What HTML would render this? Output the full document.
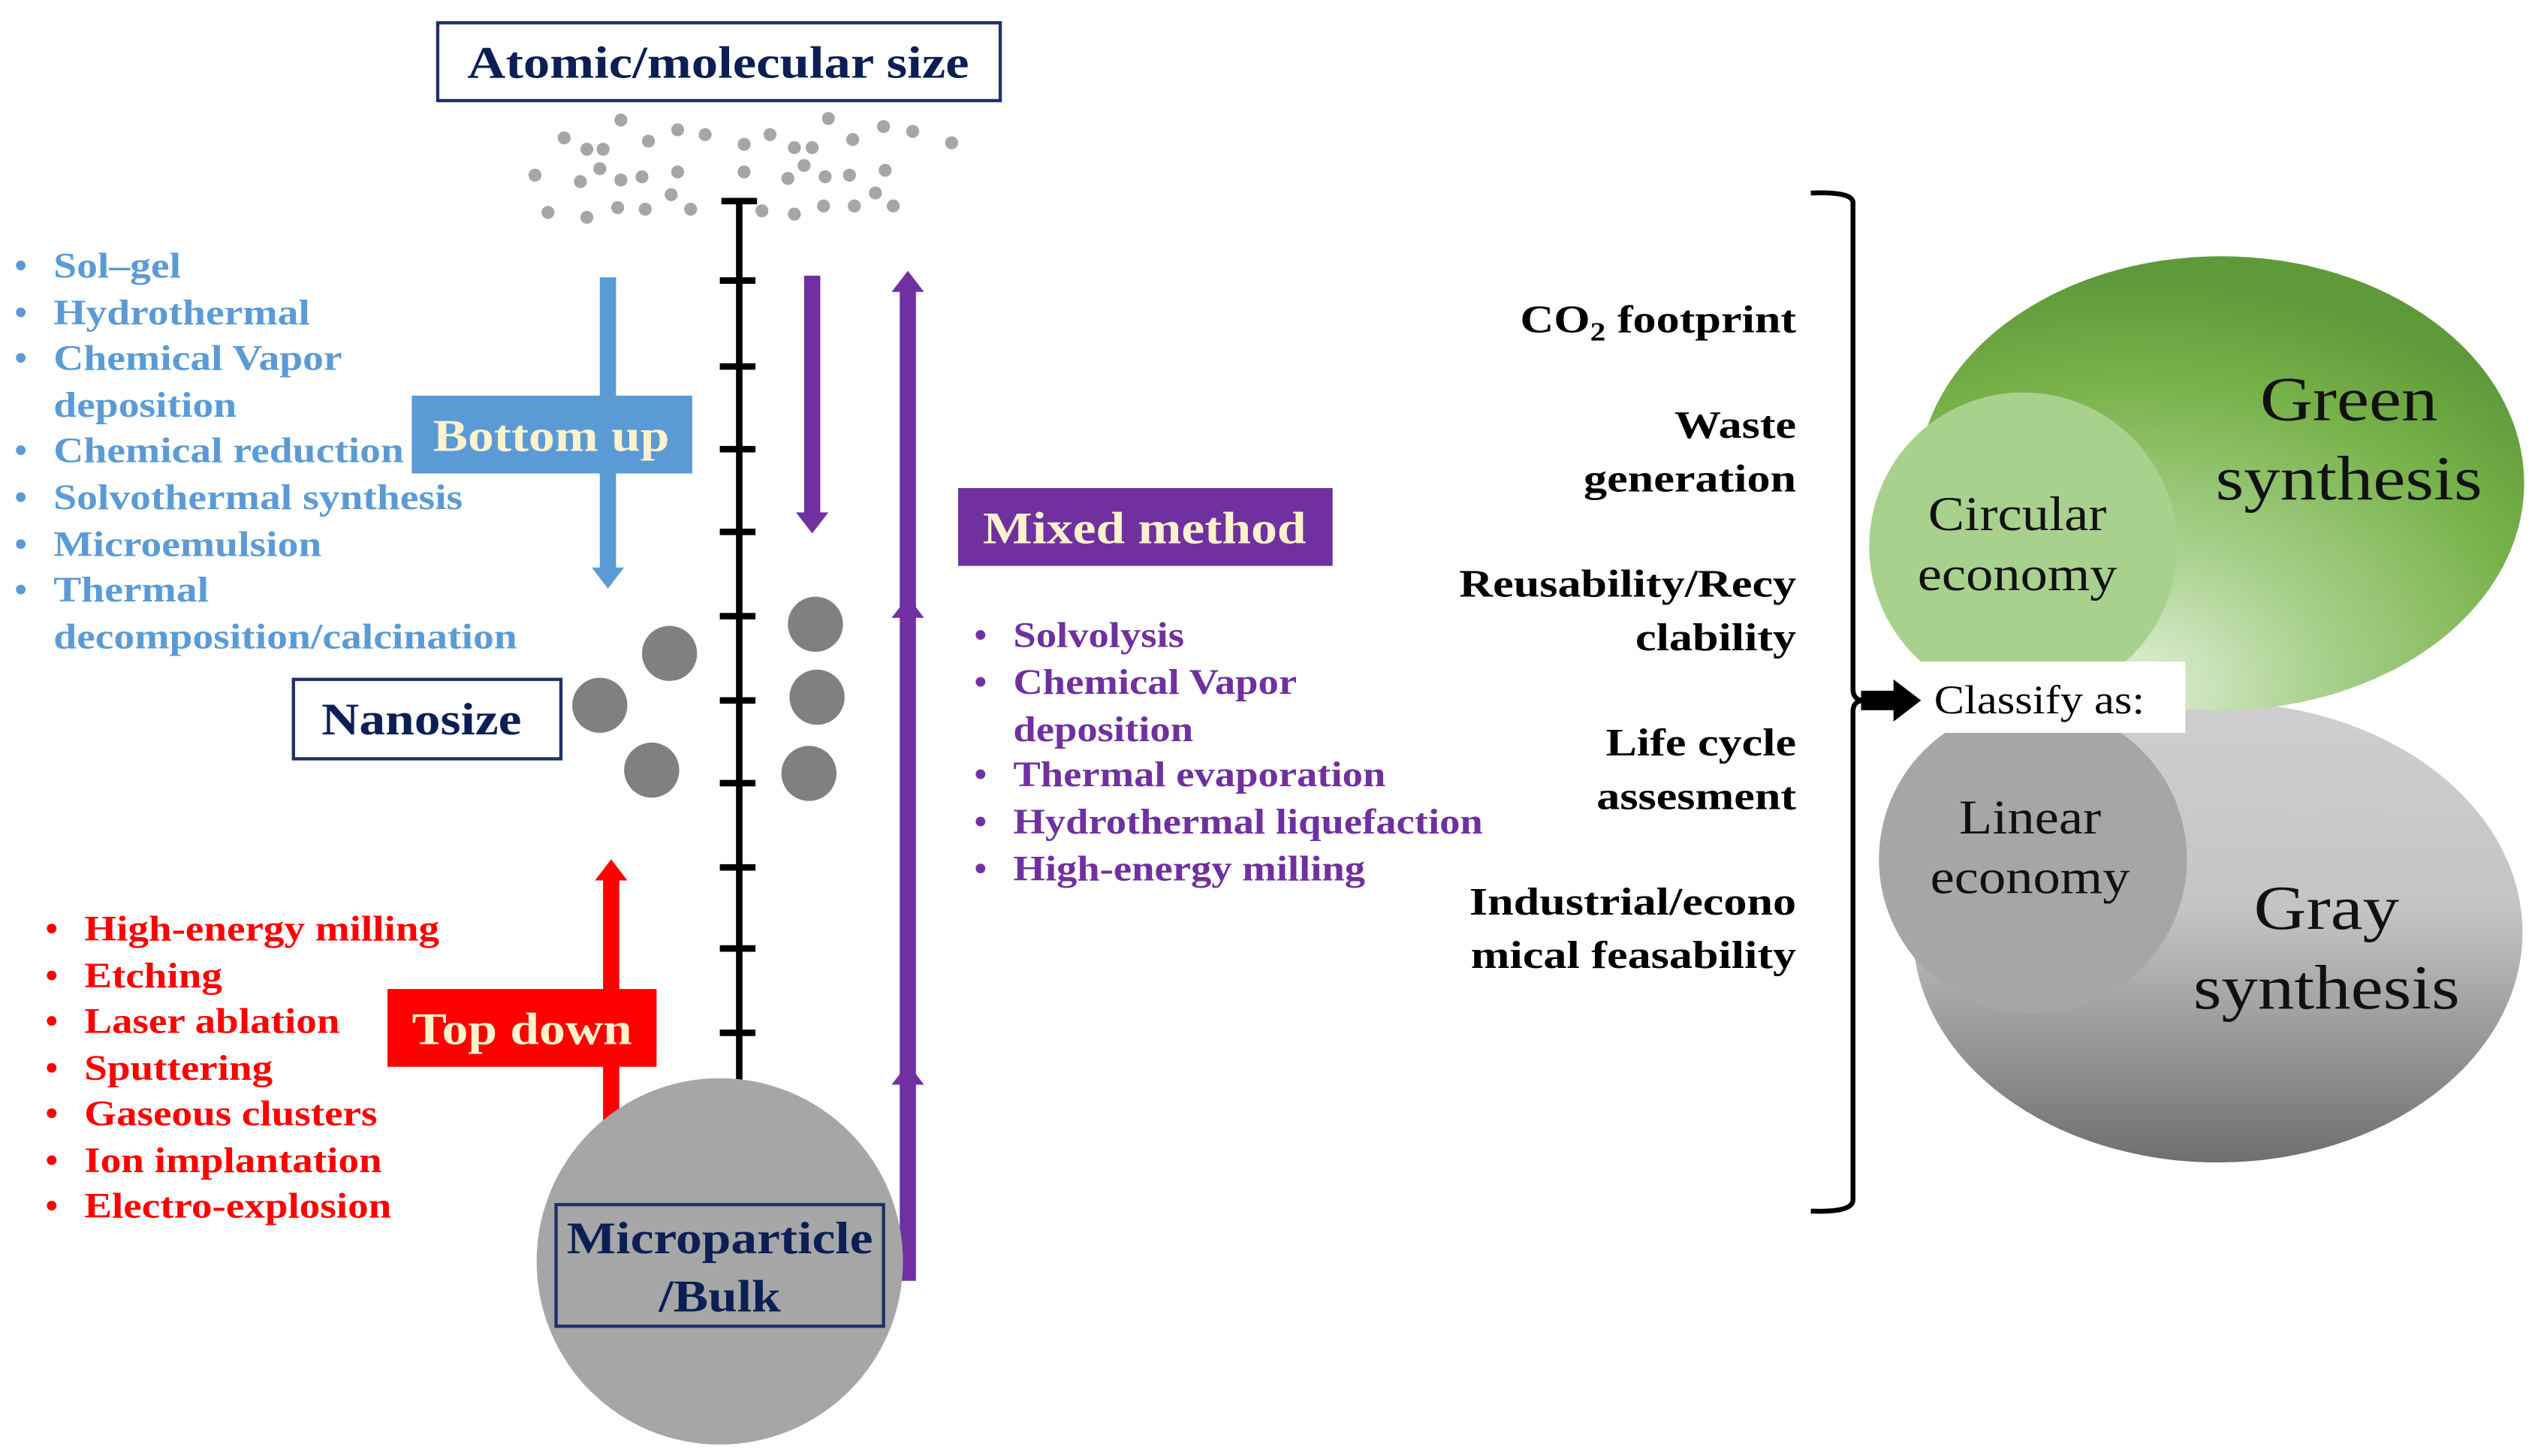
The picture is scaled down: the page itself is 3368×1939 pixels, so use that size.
<!DOCTYPE html>
<html><head><meta charset="utf-8"><style>
html,body{margin:0;padding:0;background:#fff;}
svg{display:block}
text{font-family:"Liberation Serif",serif;}
</style></head><body>
<svg width="3368" height="1939" viewBox="0 0 1560 898" xmlns="http://www.w3.org/2000/svg">
<defs>
<radialGradient id="gg" cx="0.35" cy="0.95" r="0.9">
<stop offset="0" stop-color="#e2f0d9"/><stop offset="0.35" stop-color="#a9d18e"/><stop offset="0.75" stop-color="#78b24a"/><stop offset="1" stop-color="#5f9a3a"/>
</radialGradient>
<linearGradient id="gy" x1="0" y1="0" x2="0" y2="1">
<stop offset="0" stop-color="#cfcfcf"/><stop offset="0.45" stop-color="#c4c4c4"/><stop offset="1" stop-color="#6f6f6f"/>
</linearGradient>
</defs>
<!-- top box -->
<rect x="270" y="14" width="347" height="48" fill="#fff" stroke="#1f2f6b" stroke-width="2"/>
<g transform="translate(443,0) scale(1.17,1) translate(-443,0)">
<text x="443" y="48" font-size="28" font-weight="bold" fill="#0b1f55" text-anchor="middle">Atomic/molecular size</text></g>
<!-- dots -->
<g fill="#a6a6a6">
<circle cx="348" cy="85" r="4"/><circle cx="362" cy="92" r="4"/><circle cx="372" cy="92" r="4"/><circle cx="383" cy="74" r="4"/><circle cx="400" cy="87" r="4"/><circle cx="418" cy="80" r="4"/><circle cx="435" cy="83" r="4"/><circle cx="459" cy="89" r="4"/><circle cx="475" cy="83" r="4"/><circle cx="490" cy="91" r="4"/><circle cx="501" cy="91" r="4"/><circle cx="511" cy="73" r="4"/><circle cx="526" cy="86" r="4"/><circle cx="545" cy="78" r="4"/><circle cx="563" cy="81" r="4"/><circle cx="587" cy="88" r="4"/>
<circle cx="330" cy="108" r="4"/><circle cx="358" cy="112" r="4"/><circle cx="370" cy="104" r="4"/><circle cx="383" cy="111" r="4"/><circle cx="396" cy="109" r="4"/><circle cx="418" cy="106" r="4"/><circle cx="459" cy="106" r="4"/><circle cx="486" cy="110" r="4"/><circle cx="496" cy="102" r="4"/><circle cx="509" cy="109" r="4"/><circle cx="524" cy="108" r="4"/><circle cx="546" cy="105" r="4"/>
<circle cx="338" cy="131" r="4"/><circle cx="362" cy="134" r="4"/><circle cx="381" cy="128" r="4"/><circle cx="398" cy="129" r="4"/><circle cx="414" cy="120" r="4"/><circle cx="426" cy="129" r="4"/><circle cx="470" cy="130" r="4"/><circle cx="490" cy="132" r="4"/><circle cx="508" cy="127" r="4"/><circle cx="527" cy="127" r="4"/><circle cx="540" cy="119" r="4"/><circle cx="551" cy="127" r="4"/>
</g>
<!-- axis -->
<g stroke="#000" stroke-width="4">
<line x1="456" y1="123" x2="456" y2="666"/>
<line x1="445" y1="124" x2="467" y2="124"/>
<line x1="444" y1="173" x2="466" y2="173"/><line x1="444" y1="226" x2="466" y2="226"/><line x1="444" y1="277" x2="466" y2="277"/><line x1="444" y1="328" x2="466" y2="328"/><line x1="444" y1="380" x2="466" y2="380"/><line x1="444" y1="432" x2="466" y2="432"/><line x1="444" y1="483" x2="466" y2="483"/><line x1="444" y1="535" x2="466" y2="535"/><line x1="444" y1="585" x2="466" y2="585"/><line x1="444" y1="637" x2="466" y2="637"/>
</g>
<!-- blue arrow -->
<rect x="370" y="171" width="10" height="180" fill="#5b9bd5"/>
<polygon points="365,350 385,350 375,363" fill="#5b9bd5"/>
<rect x="254" y="244" width="173" height="48" fill="#5b9bd5"/>
<g transform="translate(340,0) scale(1.15,1) translate(-340,0)">
<text x="340" y="278" font-size="28" font-weight="bold" fill="#fff2cc" text-anchor="middle">Bottom up</text></g>
<g font-size="22" font-weight="bold" fill="#5b9bd5">
<text x="9" y="171">•</text><text x="9" y="200">•</text><text x="9" y="228">•</text><text x="9" y="285">•</text><text x="9" y="314">•</text><text x="9" y="343">•</text><text x="9" y="371">•</text>
<g transform="translate(33,0) scale(1.17,1) translate(-33,0)">
<text x="33" y="171">Sol–gel</text>
<text x="33" y="200">Hydrothermal</text>
<text x="33" y="228">Chemical Vapor</text>
<text x="33" y="257">deposition</text>
<text x="33" y="285">Chemical reduction</text>
<text x="33" y="314">Solvothermal synthesis</text>
<text x="33" y="343">Microemulsion</text>
<text x="33" y="371">Thermal</text>
<text x="33" y="400">decomposition/calcination</text>
</g></g>
<!-- purple arrows -->
<rect x="496" y="170" width="10" height="147" fill="#7030a0"/>
<polygon points="491,316 511,316 501,329" fill="#7030a0"/>
<rect x="555" y="178" width="10" height="612" fill="#7030a0"/>
<polygon points="550,180 570,180 560,167" fill="#7030a0"/>
<polygon points="550,381 570,381 560,368" fill="#7030a0"/>
<polygon points="550,669 570,669 560,656" fill="#7030a0"/>
<rect x="591" y="301" width="231" height="48" fill="#7030a0"/>
<g transform="translate(706,0) scale(1.15,1) translate(-706,0)">
<text x="706" y="335" font-size="28" font-weight="bold" fill="#fff2cc" text-anchor="middle">Mixed method</text></g>
<g font-size="22" font-weight="bold" fill="#7030a0">
<text x="601" y="399">•</text><text x="601" y="428">•</text><text x="601" y="485">•</text><text x="601" y="514">•</text><text x="601" y="543">•</text>
<g transform="translate(625,0) scale(1.15,1) translate(-625,0)">
<text x="625" y="399">Solvolysis</text>
<text x="625" y="428">Chemical Vapor</text>
<text x="625" y="457">deposition</text>
<text x="625" y="485">Thermal evaporation</text>
<text x="625" y="514">Hydrothermal liquefaction</text>
<text x="625" y="543">High-energy milling</text>
</g></g>
<!-- nano -->
<rect x="181" y="419" width="165" height="49" fill="#fff" stroke="#1f2f6b" stroke-width="2"/>
<g transform="translate(260,0) scale(1.15,1) translate(-260,0)">
<text x="260" y="453" font-size="28" font-weight="bold" fill="#0b1f55" text-anchor="middle">Nanosize</text></g>
<g fill="#808080">
<ellipse cx="413" cy="403" rx="17" ry="17"/><ellipse cx="370" cy="435" rx="17" ry="17"/><ellipse cx="402" cy="475" rx="17" ry="17"/>
<ellipse cx="503" cy="385" rx="17" ry="17"/><ellipse cx="504" cy="430" rx="17" ry="17"/><ellipse cx="499" cy="477" rx="17" ry="17"/>
</g>
<!-- red -->
<rect x="372" y="542" width="10" height="150" fill="#ff0000"/>
<polygon points="367,543 387,543 377,530" fill="#ff0000"/>
<rect x="239" y="610" width="166" height="48" fill="#ff0000"/>
<g transform="translate(322,0) scale(1.15,1) translate(-322,0)">
<text x="322" y="644" font-size="28" font-weight="bold" fill="#fff2cc" text-anchor="middle">Top down</text></g>
<g font-size="22" font-weight="bold" fill="#ff0000">
<text x="28" y="580">•</text><text x="28" y="609">•</text><text x="28" y="637">•</text><text x="28" y="666">•</text><text x="28" y="694">•</text><text x="28" y="723">•</text><text x="28" y="751">•</text>
<g transform="translate(52,0) scale(1.16,1) translate(-52,0)">
<text x="52" y="580">High-energy milling</text>
<text x="52" y="609">Etching</text>
<text x="52" y="637">Laser ablation</text>
<text x="52" y="666">Sputtering</text>
<text x="52" y="694">Gaseous clusters</text>
<text x="52" y="723">Ion implantation</text>
<text x="52" y="751">Electro-explosion</text>
</g></g>
<!-- bulk -->
<ellipse cx="444" cy="778" rx="113" ry="113" fill="#a6a6a6"/>
<rect x="343" y="743" width="202" height="75" fill="none" stroke="#1f2f6b" stroke-width="2"/>
<g transform="translate(444,0) scale(1.15,1) translate(-444,0)">
<text x="444" y="773" font-size="28" font-weight="bold" fill="#0b1f55" text-anchor="middle">Microparticle</text>
<text x="444" y="809" font-size="28" font-weight="bold" fill="#0b1f55" text-anchor="middle">/Bulk</text></g>
<!-- criteria -->
<g transform="translate(1108,0) scale(1.2,1) translate(-1108,0)">
<g font-size="24" font-weight="bold" fill="#000" text-anchor="end">
<text x="1108" y="205">CO<tspan font-size="16" dy="5">2</tspan><tspan dy="-5"> footprint</tspan></text>
<text x="1108" y="270">Waste</text><text x="1108" y="303">generation</text>
<text x="1108" y="368">Reusability/Recy</text><text x="1108" y="401">clability</text>
<text x="1108" y="466">Life cycle</text><text x="1108" y="499">assesment</text>
<text x="1108" y="564">Industrial/econo</text><text x="1108" y="597">mical feasability</text>
</g></g>
<path d="M1117,119 Q1143,118 1143,125 L1143,425 Q1143,432 1150,432 Q1143,432 1143,439 L1143,740 Q1143,748 1117,747" fill="none" stroke="#000" stroke-width="3"/>
<!-- ellipses -->
<ellipse cx="1368" cy="575" rx="188" ry="142" fill="url(#gy)"/>
<ellipse cx="1254" cy="530" rx="95" ry="95" fill="#a6a6a6"/>
<ellipse cx="1370" cy="298" rx="187" ry="140" fill="url(#gg)"/>
<ellipse cx="1248" cy="337" rx="95" ry="95" fill="#a9d18e"/>
<rect x="1181" y="408" width="167" height="44" fill="#fff"/>
<polygon points="1148,426 1168,426 1168,419 1185,432 1168,445 1168,438 1148,438" fill="#000"/>
<g transform="translate(1258,0) scale(1.12,1) translate(-1258,0)">
<text x="1258" y="440" font-size="25" fill="#000" text-anchor="middle">Classify  as:</text></g>
<g transform="translate(1250,0) scale(1.12,1) translate(-1250,0)" font-size="30" fill="#111" text-anchor="middle">
<text x="1245" y="327">Circular</text>
<text x="1245" y="364">economy</text>
<text x="1252" y="514">Linear</text>
<text x="1252" y="551">economy</text></g>
<g transform="translate(1442,0) scale(1.15,1) translate(-1442,0)" font-size="39" fill="#111" text-anchor="middle">
<text x="1448" y="259">Green</text>
<text x="1448" y="308">synthesis</text>
<text x="1436" y="573">Gray</text>
<text x="1436" y="622">synthesis</text></g>
</svg>
</body></html>
